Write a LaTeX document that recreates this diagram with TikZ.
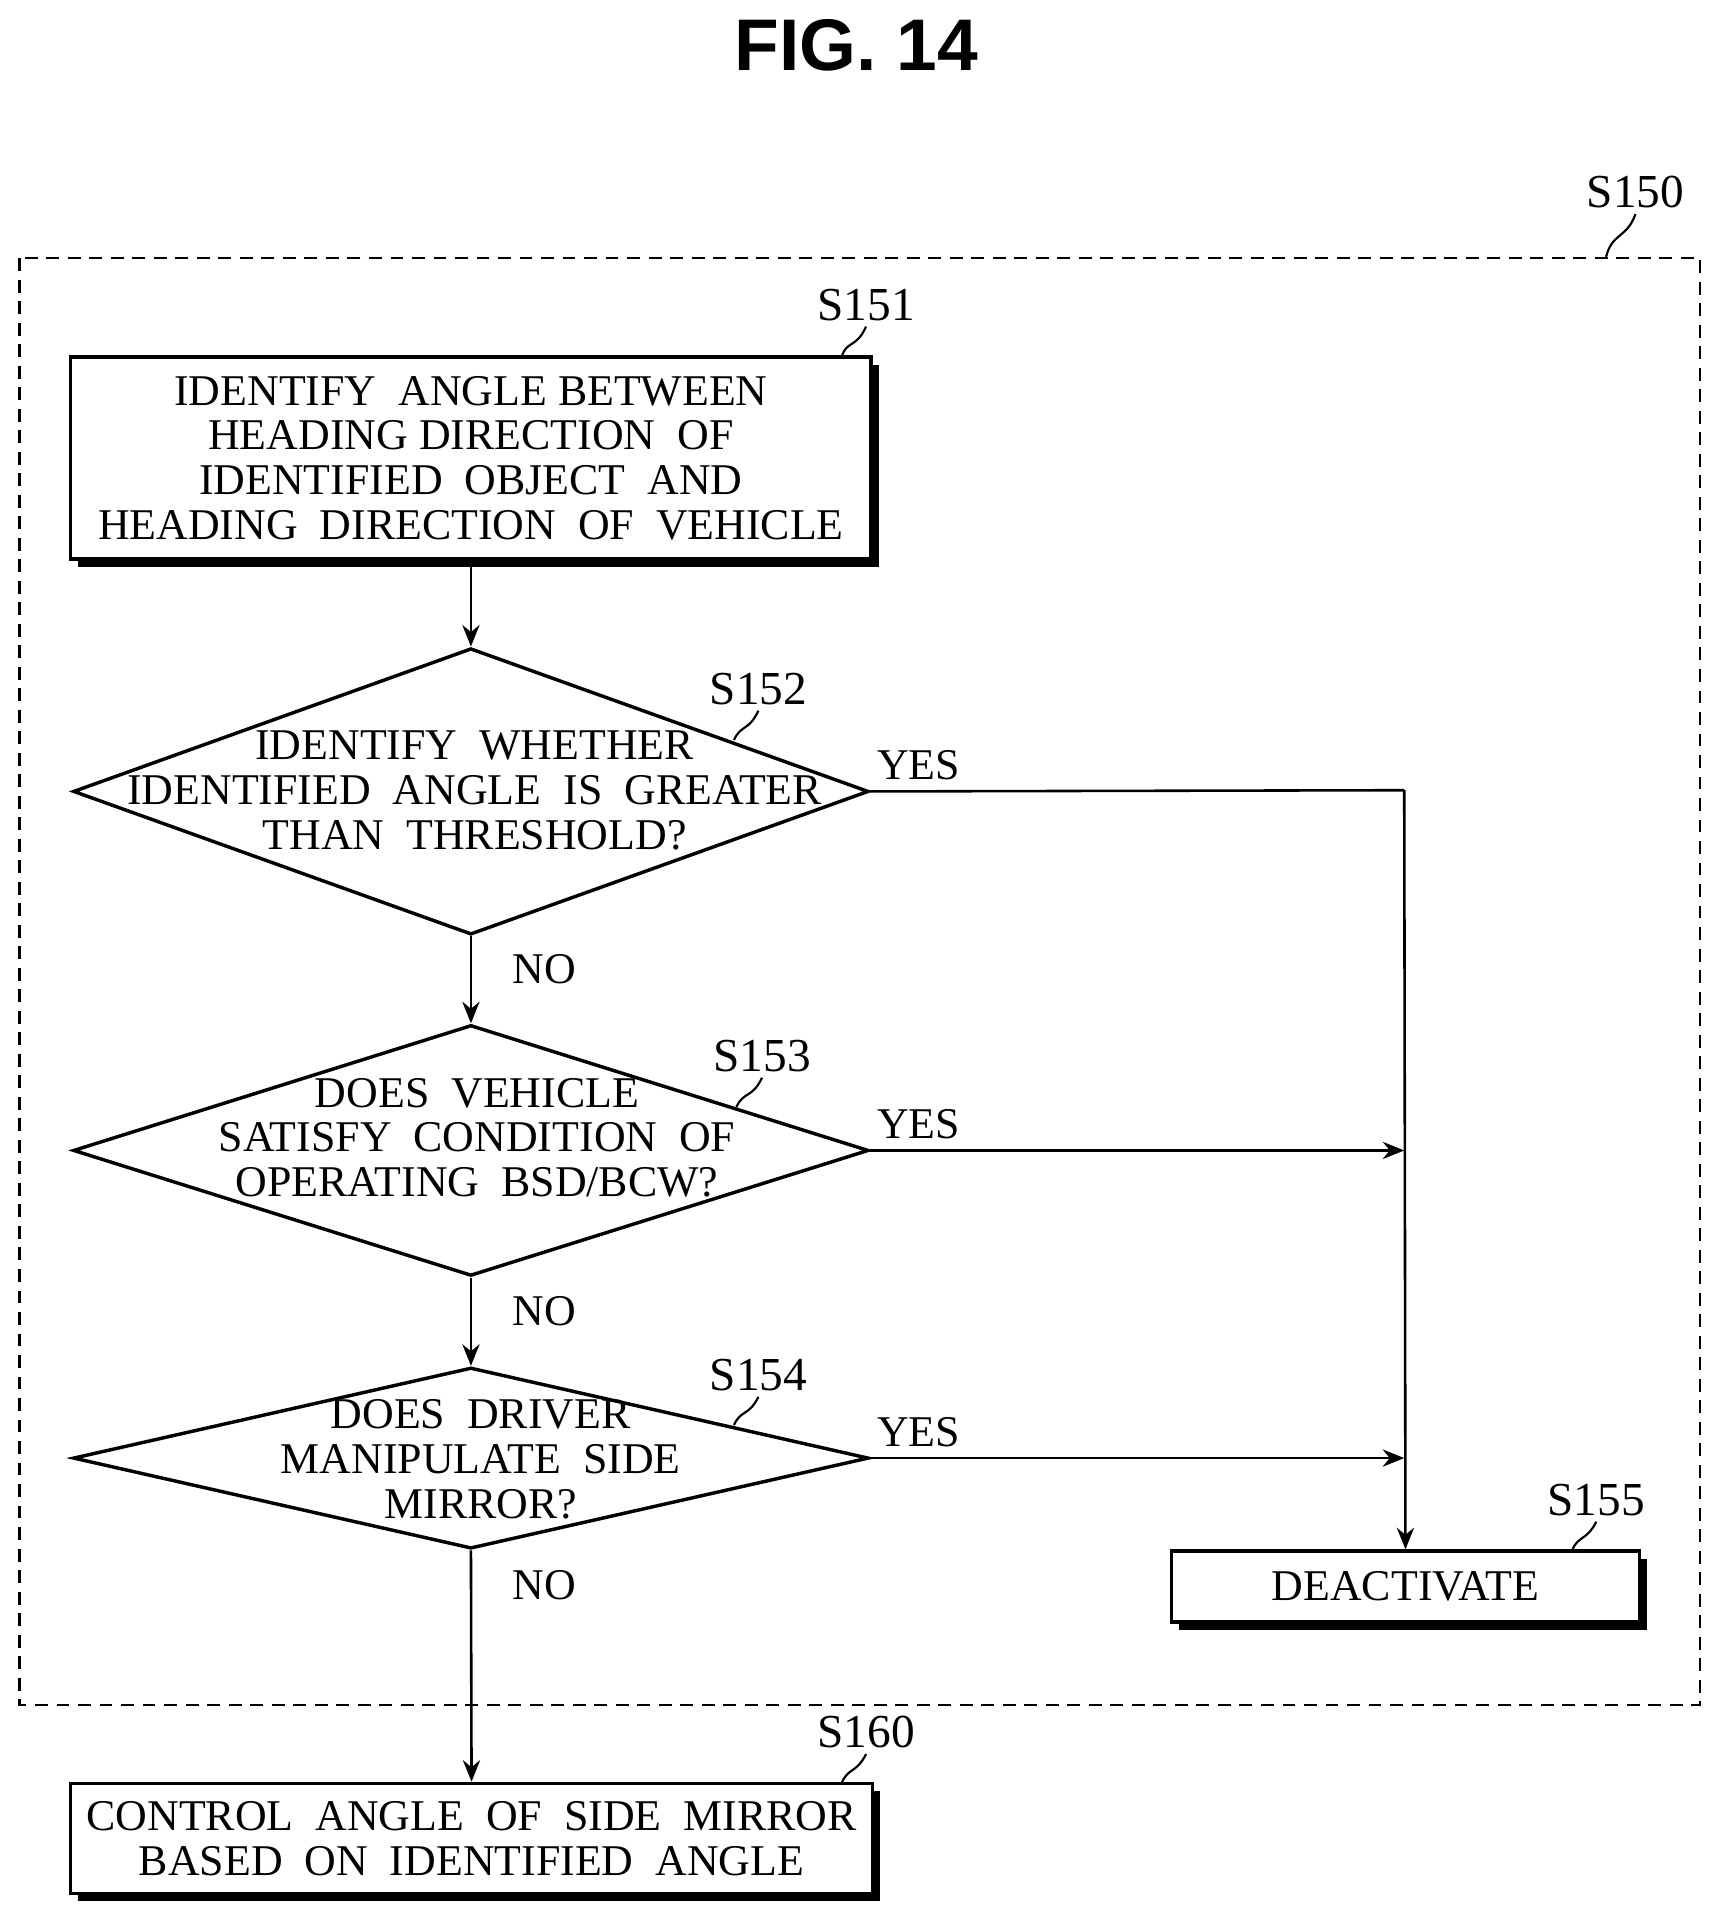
\documentclass[tikz,border=0pt]{standalone}
\usepackage{fontspec}
\setmainfont{Liberation Serif}
\newfontfamily\titlefont{Liberation Sans}
\usetikzlibrary{shapes.geometric,arrows.meta,shadows}
\begin{document}
\begin{tikzpicture}[x=0.01cm,y=-0.01cm,
  every node/.style={font=\fontsize{10.2}{10.4}\selectfont},
  box/.style={draw,line width=0.8pt,fill=white,align=center,inner sep=0,
     drop shadow={shadow xshift=1.8pt,shadow yshift=-1.8pt,fill=black,opacity=1}},
  dia/.style={draw,line width=0.8pt,diamond,inner sep=0,minimum width=6.5cm},
  txt/.style={align=center},
  lab/.style={font=\fontsize{11}{11}\selectfont},
  arr/.style={-{Stealth[length=5pt,width=4pt]},line width=0.6pt},
  ln/.style={line width=0.6pt},
  lead/.style={line width=0.5pt}]
\useasboundingbox (0,0) rectangle (1406,1568);
\node[font=\titlefont\bfseries\fontsize{17}{17}\selectfont] (title) at (700,37) {FIG. 14};
\draw[dash pattern=on 3pt off 2pt,line width=0.5pt] (16,211) rectangle (1390,1394);
\node[lab] (l150) at (1337,157) {S150};
\draw[lead] (1337,175) .. controls (1330,195) and (1318,190) .. (1313,210);

\node[box,minimum width=6.54cm,minimum height=1.65cm] (s151) at (385,374.5)
 {IDENTIFY\ \ ANGLE BETWEEN\\HEADING DIRECTION\ \ OF\\IDENTIFIED\ \ OBJECT\ \ AND\\HEADING\ \ DIRECTION\ \ OF\ \ VEHICLE};
\node[lab] (l151) at (708,249) {S151};
\draw[lead] (708,267) .. controls (700,285) and (692,278) .. (688,292);

\node[dia,minimum height=2.34cm] (s152) at (385,647) {};
\node[txt] (t152) at (388,646) {IDENTIFY\ \ WHETHER\\IDENTIFIED\ \ ANGLE\ \ IS\ \ GREATER\\THAN\ \ THRESHOLD?};
\node[lab] (l152) at (620,563) {S152};
\draw[lead] (620,581) .. controls (612,598) and (606,592) .. (600,605);

\node[dia,minimum height=2.05cm] (s153) at (385,940.5) {};
\node[txt] (t153) at (390,930) {DOES\ \ VEHICLE\\SATISFY\ \ CONDITION\ \ OF\\OPERATING\ \ BSD/BCW?};
\node[lab] (l153) at (623,863) {S153};
\draw[lead] (623,881) .. controls (615,898) and (608,892) .. (602,905);

\node[dia,minimum height=1.48cm] (s154) at (385,1192) {};
\node[txt] (t154) at (393,1193) {DOES\ \ DRIVER\\MANIPULATE\ \ SIDE\\MIRROR?};
\node[lab] (l154) at (620,1124) {S154};
\draw[lead] (620,1142) .. controls (612,1158) and (606,1152) .. (600,1165);

\node[box,minimum width=3.82cm,minimum height=0.58cm] (s155) at (1149,1297) {DEACTIVATE};
\node[lab] (l155) at (1305,1226) {S155};
\draw[lead] (1305,1244) .. controls (1297,1260) and (1290,1255) .. (1285,1268);

\node[box,minimum width=6.55cm,minimum height=0.9cm] (s160) at (385.5,1503)
 {CONTROL\ \ ANGLE\ \ OF\ \ SIDE\ \ MIRROR\\BASED\ \ ON\ \ IDENTIFIED\ \ ANGLE};
\node[lab] (l160) at (708,1416) {S160};
\draw[lead] (708,1434) .. controls (700,1450) and (693,1445) .. (688,1458);

\coordinate (j1) at (1148,646);
\coordinate (j2) at (1148,940.5);
\coordinate (j3) at (1148,1192);
\draw[arr] (s151) -- (s152.north);
\draw[arr] (s152.south) -- node[right,xshift=6pt,pos=0.38]{NO} (s153.north);
\draw[arr] (s153.south) -- node[right,xshift=6pt,pos=0.38]{NO} (s154.north);
\draw[arr] (s154.south) -- node[right,xshift=6pt,pos=0.15]{NO} (s160.north);
\draw[ln] (s152.east) -- node[above,pos=0.09,yshift=-1pt]{YES} (j1);
\draw[arr] (j1) -- (s155.north);
\draw[arr] (s153.east) -- node[above,pos=0.09,yshift=-1pt]{YES} (j2);
\draw[arr] (s154.east) -- node[above,pos=0.09,yshift=-1pt]{YES} (j3);
\end{tikzpicture}
\end{document}
